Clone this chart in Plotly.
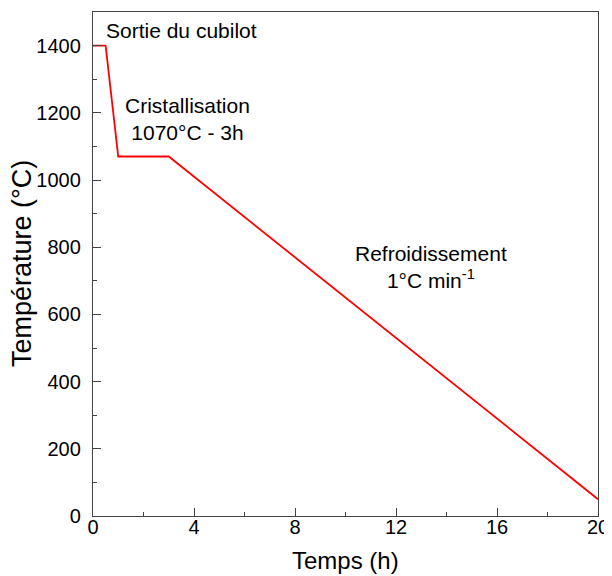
import plotly.graph_objects as go

time_h = [0, 0.5, 1, 3, 20]
temp_c = [1400, 1400, 1070, 1070, 50]

x_ticks = [0, 4, 8, 12, 16, 20]
y_ticks = [0, 200, 400, 600, 800, 1000, 1200, 1400]

ann_text = ["Sortie du cubilot", "Cristallisation<br>1070°C - 3h", "Refroidissement<br>1°C min<sup>-1</sup>"]
ann_x = [3.5, 3.75, 13.4]
ann_y = [1445, 1183, 740]

x_title = "Temps (h)"
y_title = "Température (°C)"

font_family = "Liberation Sans, Arial, sans-serif"

fig = go.Figure()
fig.add_trace(go.Scatter(x=time_h, y=temp_c, mode="lines",
                         line=dict(color="#ff0000", width=1.8), showlegend=False))

for t, x, y in zip(ann_text, ann_x, ann_y):
    fig.add_annotation(x=x, y=y, text=t, showarrow=False, xref="x", yref="y",
                       font=dict(family=font_family, size=21, color="black"))

fig.add_annotation(x=0.5, y=0, xref="paper", yref="paper", text=x_title, showarrow=False,
                   yshift=-44, yanchor="middle", xanchor="center",
                   font=dict(family=font_family, size=24, color="black"))
fig.add_annotation(x=0, y=0.5, xref="paper", yref="paper", text=y_title, showarrow=False,
                   xshift=-71, textangle=-90, xanchor="center", yanchor="middle",
                   font=dict(family=font_family, size=27, color="black"))

axis_common = dict(showline=True, linecolor="#444", linewidth=1.3, mirror=True,
                   ticks="inside", ticklen=8, tickwidth=1.2, tickcolor="#444",
                   showgrid=False, zeroline=False, automargin=False,
                   tickfont=dict(family=font_family, size=20, color="black"))

fig.update_xaxes(range=[0, 20], tickvals=x_ticks, ticklabelstandoff=-7,
                 minor=dict(dtick=2, tick0=0, ticks="inside", ticklen=4, tickcolor="#444", tickwidth=1.2),
                 **axis_common)
fig.update_yaxes(range=[0, 1500], tickvals=y_ticks, ticklabelstandoff=7,
                 minor=dict(dtick=100, tick0=0, ticks="inside", ticklen=4, tickcolor="#444", tickwidth=1.2),
                 **axis_common)

# page body adds an 8px offset, so the figure is 8px smaller than the window
fig.update_layout(width=604, height=568, plot_bgcolor="white", paper_bgcolor="white",
                  margin=dict(l=85, r=14, t=4, b=60))

fig.write_html("out.html")
